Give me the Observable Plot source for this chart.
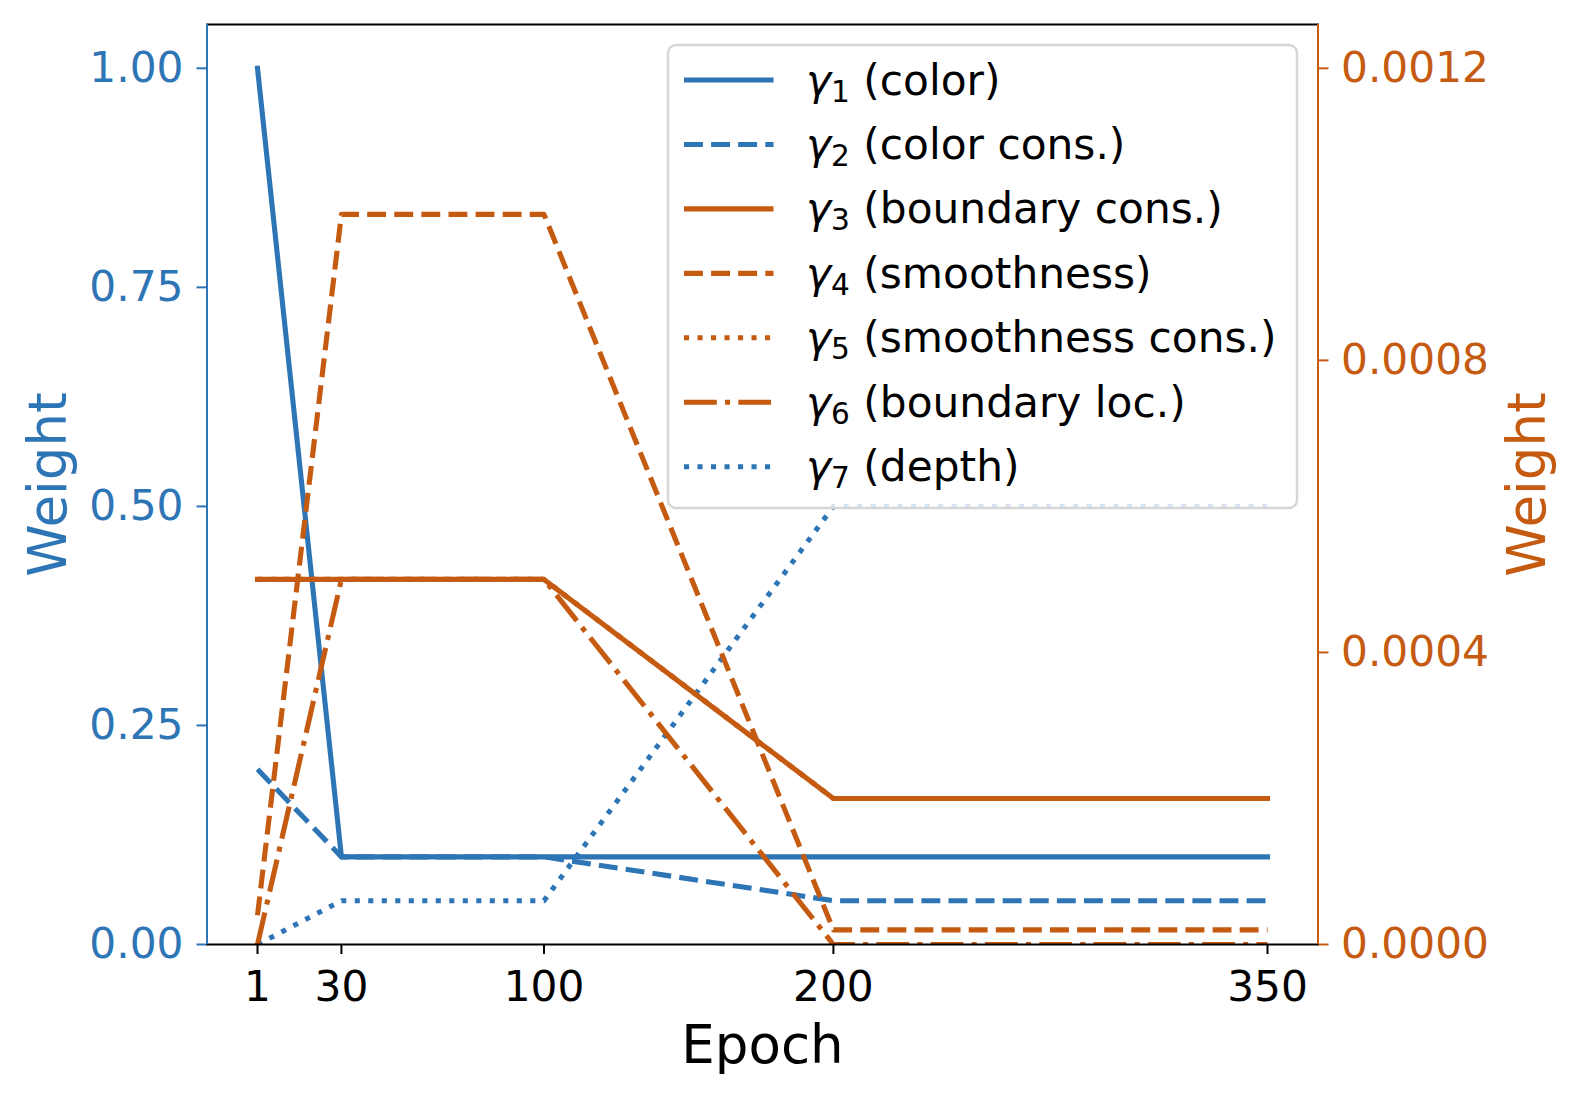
<!DOCTYPE html>
<html>
<head>
<meta charset="utf-8">
<script src="https://cdn.jsdelivr.net/npm/d3@7"></script>
<script src="https://cdn.jsdelivr.net/npm/@observablehq/plot@0.6"></script>
<style>
  body { margin: 0; background: #fff; }
  #wrap { position: relative; width: 1579px; height: 1098px; font-family: "DejaVu Sans"; }
  #legend { position: absolute; left: 0; top: 0; pointer-events: none; }
</style>
</head>
<body>
<div id="wrap"></div>
<script>
// ---- data ----
const epochs = [1, 30, 100, 200, 350];
const gamma1 = [1.0, 0.1, 0.1, 0.1, 0.1];          // color (left axis)
const gamma2 = [0.2, 0.1, 0.1, 0.05, 0.05];        // color cons. (left)
const gamma7 = [0, 0.05, 0.05, 0.5, 0.5];          // depth (left)
const gamma3 = [0.0005, 0.0005, 0.0005, 0.0002, 0.0002]; // boundary cons. (right)
const gamma4 = [0.00004, 0.001, 0.001, 0.00002, 0.00002]; // smoothness (right)
const gamma5 = [0.0005, 0.0005, 0.0005, 0.0002, 0.0002]; // smoothness cons. (right)
const gamma6 = [0, 0.0005, 0.0005, 0, 0];                 // boundary loc. (right)
const leftTicks = [0, 0.25, 0.5, 0.75, 1.0];
const rightTicks = [0, 0.0004, 0.0008, 0.0012];
const legendNames = ["color", "color cons.", "boundary cons.", "smoothness", "smoothness cons.", "boundary loc.", "depth"];

const leftMax = 1.05, rightMax = 0.00126;
const k = leftMax / rightMax;

const blue = "#2E75B6", orange = "#C55A11";
const LW = 5.1;
const TICK_FS = 42.3, LABEL_FS = 53, LEGEND_FS = 42.3;
const dash = {solid: null, dashed: "18.9,8.2", dotted: "5.1,8.4", dashdot: "32.8,8.2,5.1,8.2"};

const span = epochs[epochs.length - 1] - epochs[0];
const xDomain = [epochs[0] - 0.05 * span, epochs[epochs.length - 1] + 0.05 * span];

const series = [
  {vals: gamma1, color: blue, style: "solid", right: false},
  {vals: gamma2, color: blue, style: "dashed", right: false},
  {vals: gamma3, color: orange, style: "solid", right: true},
  {vals: gamma4, color: orange, style: "dashed", right: true},
  {vals: gamma5, color: orange, style: "dotted", right: true},
  {vals: gamma6, color: orange, style: "dashdot", right: true},
  {vals: gamma7, color: blue, style: "dotted", right: false}
];
// matplotlib draw order: left-axis lines first, then twin-axis lines
const drawOrder = [0, 1, 6, 2, 3, 4, 5];

const lineMarks = drawOrder.map(i => {
  const s = series[i];
  const ys = s.right ? s.vals.map(v => v * k) : s.vals;
  return Plot.line(s.vals, {
    x: epochs, y: ys,
    stroke: s.color, strokeWidth: LW,
    strokeDasharray: dash[s.style],
    strokeLinecap: s.style === "solid" ? "square" : "butt",
    strokeLinejoin: "round",
    clip: true
  });
});

const chart = Plot.plot({
  width: 1579, height: 1098,
  marginLeft: 206.5, marginRight: 261.5, marginTop: 24, marginBottom: 154,
  x: {domain: xDomain},
  y: {domain: [0, leftMax]},
  style: {fontFamily: "DejaVu Sans", background: "white", overflow: "visible"},
  marks: [
    ...lineMarks,
    Plot.frame({stroke: "black", strokeWidth: 2}),
    Plot.ruleX([xDomain[0]], {stroke: blue, strokeWidth: 2}),
    Plot.ruleX([xDomain[1]], {stroke: orange, strokeWidth: 2}),
    Plot.axisX(epochs, {anchor: "bottom", tickSize: 10, tickPadding: 16, fontSize: TICK_FS,
      tickFormat: d => `${d}`, label: null, color: "black", strokeWidth: 2}),
    Plot.axisY(leftTicks, {anchor: "left", tickSize: 10, tickPadding: 13.5, fontSize: TICK_FS,
      tickFormat: d3.format(".2f"), label: null, color: blue, strokeWidth: 2}),
    Plot.axisY(rightTicks.map(v => v * k), {anchor: "right", tickSize: 10, tickPadding: 13, fontSize: TICK_FS,
      tickFormat: d => (d / k).toFixed(4), label: null, color: orange, strokeWidth: 2}),
    Plot.text(["Weight"], {frameAnchor: "left", rotate: -90, lineAnchor: "bottom", textAnchor: "middle",
      dx: -141.5, fill: blue, fontSize: LABEL_FS}),
    Plot.text(["Weight"], {frameAnchor: "right", rotate: -90, lineAnchor: "bottom", textAnchor: "middle",
      dx: 226.5, fill: orange, fontSize: LABEL_FS}),
    Plot.text(["Epoch"], {frameAnchor: "bottom", lineAnchor: "bottom", textAnchor: "middle",
      dy: 118, fill: "black", fontSize: LABEL_FS})
  ]
});
document.getElementById("wrap").appendChild(chart);

// ---- legend overlay ----
const NS = "http://www.w3.org/2000/svg";
const lg = document.createElementNS(NS, "svg");
lg.setAttribute("id", "legend");
lg.setAttribute("width", 1579);
lg.setAttribute("height", 1098);
const box = document.createElementNS(NS, "rect");
box.setAttribute("x", 668); box.setAttribute("y", 45);
box.setAttribute("width", 629); box.setAttribute("height", 463);
box.setAttribute("rx", 8); box.setAttribute("ry", 8);
box.setAttribute("fill", "rgba(255,255,255,0.8)");
box.setAttribute("stroke", "#d6d6d6"); box.setAttribute("stroke-width", 2.5);
lg.appendChild(box);
series.forEach((s, i) => {
  const yc = 80 + i * 64.45;
  const ln = document.createElementNS(NS, "line");
  ln.setAttribute("x1", 684); ln.setAttribute("x2", 773.5);
  ln.setAttribute("y1", yc); ln.setAttribute("y2", yc);
  ln.setAttribute("stroke", s.color); ln.setAttribute("stroke-width", LW);
  if (dash[s.style]) ln.setAttribute("stroke-dasharray", dash[s.style]);
  ln.setAttribute("stroke-linecap", "butt");
  lg.appendChild(ln);
  const t = document.createElementNS(NS, "text");
  t.setAttribute("x", 806); t.setAttribute("y", yc + 14.5);
  t.setAttribute("font-family", "DejaVu Sans"); t.setAttribute("font-size", LEGEND_FS);
  t.setAttribute("fill", "black");
  const g = document.createElementNS(NS, "tspan");
  g.setAttribute("font-style", "italic"); g.textContent = "γ";
  const sub = document.createElementNS(NS, "tspan");
  sub.setAttribute("font-size", LEGEND_FS * 0.7); sub.setAttribute("dy", 7); sub.textContent = String(i + 1);
  const rest = document.createElementNS(NS, "tspan");
  rest.setAttribute("dy", -7); rest.textContent = "\u00a0(" + legendNames[i] + ")";
  t.appendChild(g); t.appendChild(sub); t.appendChild(rest);
  lg.appendChild(t);
});
document.getElementById("wrap").appendChild(lg);
</script>
</body>
</html>
